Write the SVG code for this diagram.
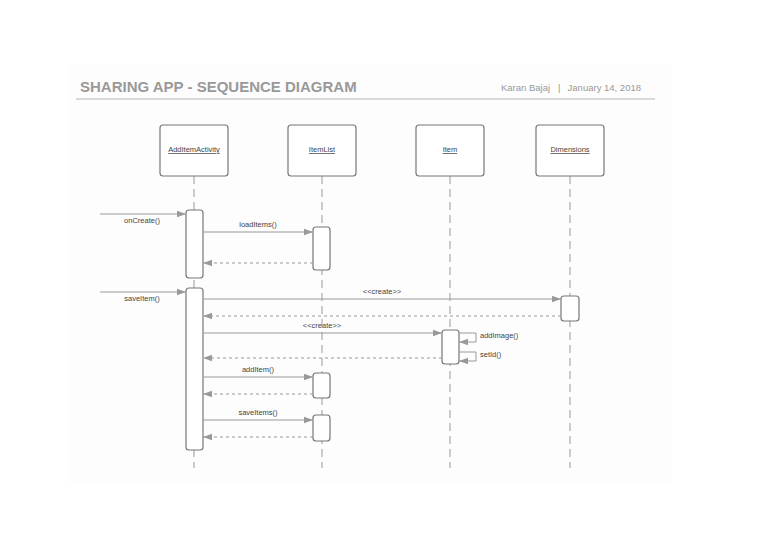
<svg xmlns="http://www.w3.org/2000/svg" width="768" height="543" viewBox="0 0 768 543">
<style>
text{font-family:"Liberation Sans",Arial,sans-serif;fill:#444;}
.title{font-size:15px;font-weight:bold;fill:#999;}
.meta{font-size:9.5px;fill:#999;}
.obj rect{fill:#fff;stroke:#777;stroke-width:1.2;}
.obj text{font-size:7.5px;text-decoration:underline;text-anchor:middle;}
.life{stroke:#aaa;stroke-width:1.2;stroke-dasharray:8,5;fill:none;}
.act{fill:#fff;stroke:#777;stroke-width:1.2;}
.msg{stroke:#999;stroke-width:1;fill:none;marker-end:url(#ah);}
.ret{stroke:#999;stroke-width:1;fill:none;stroke-dasharray:3,3;marker-end:url(#ah);}
.lbl{font-size:7.5px;}
</style>
<defs>
<marker id="ah" viewBox="0 0 10 10" refX="10" refY="5" markerWidth="9" markerHeight="9" markerUnits="userSpaceOnUse" orient="auto">
<path d="M0,1.5 L10,5 L0,8.5 z" fill="#999"/>
</marker>
</defs>
<rect width="768" height="543" fill="#fff"/>
<rect x="68" y="65" width="604" height="417" fill="#fdfdfd"/>
<text class="title" x="80" y="92">SHARING APP - SEQUENCE DIAGRAM</text>
<text class="meta" x="501" y="91">Karan Bajaj</text>
<text class="meta" x="558" y="91">|</text>
<text class="meta" x="641" y="91" text-anchor="end">January 14, 2018</text>
<line x1="76" y1="99" x2="655" y2="99" stroke="#ccc" stroke-width="1.5"/>

<g id="lifelines">
<line class="life" x1="194" y1="176" x2="194" y2="468"/>
<line class="life" x1="322" y1="176" x2="322" y2="468"/>
<line class="life" x1="450" y1="176" x2="450" y2="468"/>
<line class="life" x1="570" y1="176" x2="570" y2="468"/>
</g>

<g id="AddItemActivity" class="obj"><rect x="160" y="125" width="68" height="51" rx="3"/><text x="194" y="152">AddItemActivity</text></g>
<g id="ItemList" class="obj"><rect x="288" y="125" width="68" height="51" rx="3"/><text x="322" y="152">ItemList</text></g>
<g id="Item" class="obj"><rect x="416" y="125" width="68" height="51" rx="3"/><text x="450" y="152">Item</text></g>
<g id="Dimensions" class="obj"><rect x="536" y="125" width="68" height="51" rx="3"/><text x="570" y="152">Dimensions</text></g>

<g id="activations">
<rect class="act" x="186" y="210" width="17" height="68" rx="3"/>
<rect class="act" x="186" y="288" width="17" height="162" rx="3"/>
<rect class="act" x="313" y="227" width="17" height="43" rx="3"/>
<rect class="act" x="313" y="373" width="17" height="25" rx="3"/>
<rect class="act" x="313" y="415" width="17" height="26" rx="3"/>
<rect class="act" x="561" y="296" width="18" height="25" rx="3"/>
<rect class="act" x="442" y="330" width="17" height="34" rx="3"/>
</g>

<g id="connectors">
<line class="msg" x1="100" y1="214" x2="186" y2="214"/>
<line class="msg" x1="203" y1="232" x2="313" y2="232"/>
<line class="ret" x1="313" y1="263" x2="203" y2="263"/>
<line class="msg" x1="100" y1="292" x2="186" y2="292"/>
<line class="msg" x1="203" y1="299" x2="561" y2="299"/>
<line class="ret" x1="561" y1="316" x2="203" y2="316"/>
<line class="msg" x1="203" y1="333" x2="442" y2="333"/>
<path class="msg" d="M459,333 H476 V342 H459"/>
<path class="msg" d="M459,352 H476 V361 H459"/>
<line class="ret" x1="442" y1="358" x2="203" y2="358"/>
<line class="msg" x1="203" y1="377" x2="313" y2="377"/>
<line class="ret" x1="313" y1="394" x2="203" y2="394"/>
<line class="msg" x1="203" y1="420" x2="313" y2="420"/>
<line class="ret" x1="313" y1="437" x2="203" y2="437"/>
</g>

<g id="labels">
<text class="lbl" x="142" y="223" text-anchor="middle">onCreate()</text>
<text class="lbl" x="258" y="227" text-anchor="middle">loadItems()</text>
<text class="lbl" x="142" y="301" text-anchor="middle">saveItem()</text>
<text class="lbl" x="382" y="294" text-anchor="middle">&lt;&lt;create&gt;&gt;</text>
<text class="lbl" x="322" y="328" text-anchor="middle">&lt;&lt;create&gt;&gt;</text>
<text class="lbl" x="480" y="338">addImage()</text>
<text class="lbl" x="480" y="357">setId()</text>
<text class="lbl" x="258" y="372" text-anchor="middle">addItem()</text>
<text class="lbl" x="258" y="415" text-anchor="middle">saveItems()</text>
</g>
</svg>
